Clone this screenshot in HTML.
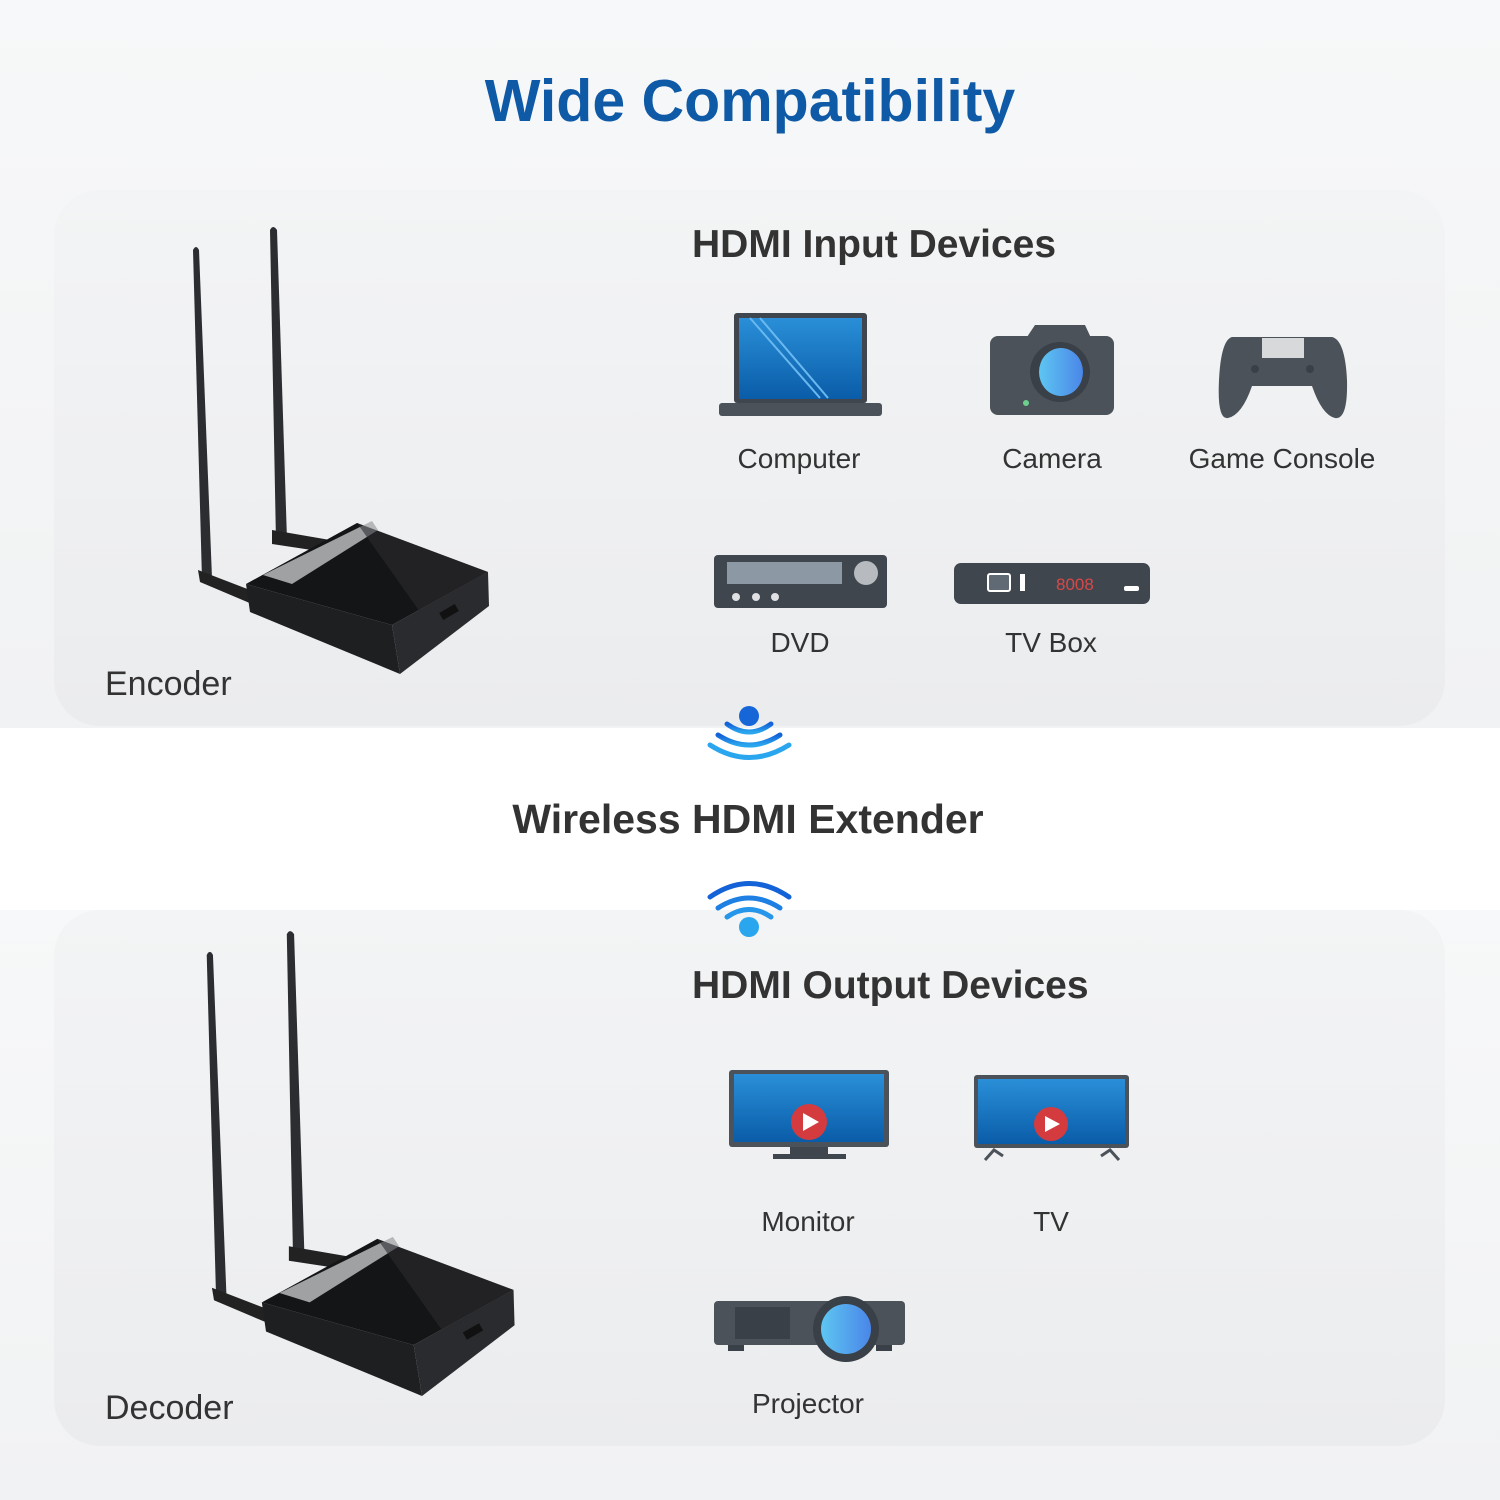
<!DOCTYPE html>
<html><head><meta charset="utf-8"><style>
html,body{margin:0;padding:0;background:#fff}
svg{display:block}
text{font-family:"Liberation Sans",sans-serif}
</style></head><body>
<svg width="1500" height="1500" viewBox="0 0 1500 1500" xmlns="http://www.w3.org/2000/svg">
<defs>
<linearGradient id="pg" x1="0" y1="0" x2="0" y2="1"><stop offset="0" stop-color="#f3f4f5"/><stop offset="1" stop-color="#ebecee"/></linearGradient>
<linearGradient id="bg" x1="0" y1="0" x2="0" y2="1"><stop offset="0" stop-color="#f7f8f9"/><stop offset="1" stop-color="#f1f2f3"/></linearGradient>
<linearGradient id="scr" x1="0" y1="0" x2="0" y2="1"><stop offset="0" stop-color="#2a8fd8"/><stop offset="1" stop-color="#0a5ca8"/></linearGradient>
<linearGradient id="lens" x1="0" y1="0" x2="1" y2="0"><stop offset="0" stop-color="#5ec6f2"/><stop offset="1" stop-color="#4a86e8"/></linearGradient>
<linearGradient id="wf" x1="0" y1="0" x2="0" y2="1"><stop offset="0" stop-color="#1462d8"/><stop offset="1" stop-color="#2aa6ee"/></linearGradient>
<g id="dev">
  <path d="M193,250 Q196,244 199,250 L212,578 L202,580 Z" fill="#2b2d30"/>
  <path d="M270,230 Q273,224 277,230 L287,540 L276,542 Z" fill="#2b2d30"/>
  <path d="M198,570 L250,590 L252,604 L200,582 Z" fill="#222"/>
  <path d="M272,530 L330,540 L325,552 L272,544 Z" fill="#222"/>
  <path d="M246,584 L250,612 L400,674 L392,625 Z" fill="#1e1f21"/>
  <path d="M392,625 L488,572 L489,606 L400,674 Z" fill="#2a2b2e"/>
  <path d="M246,584 L357,523 L488,572 L392,625 Z" fill="#141516"/>
  <path d="M263,575 L372,521 L378,530 L292,584 Z" fill="#aeb0b3" opacity="0.9"/>
  <path d="M357,523 L488,572 L420,612 Z" fill="#2b2c2f" opacity="0.6"/>
  <rect x="440" y="608" width="18" height="8" fill="#111" transform="rotate(-30 449 612)"/>
</g>
</defs>
<rect width="1500" height="1500" fill="#fff"/>
<rect x="0" y="0" width="1500" height="728" fill="url(#bg)"/>
<rect x="0" y="910" width="1500" height="590" fill="url(#bg)"/>
<rect x="54" y="190" width="1391" height="536" rx="46" fill="url(#pg)"/>
<rect x="54" y="910" width="1391" height="536" rx="46" fill="url(#pg)"/>

<text x="750" y="121" text-anchor="middle" font-size="59" font-weight="bold" fill="#0f5aa6">Wide Compatibility</text>
<text x="692" y="257" font-size="39" font-weight="bold" fill="#333">HDMI Input Devices</text>
<text x="692" y="998" font-size="39" font-weight="bold" fill="#333">HDMI Output Devices</text>
<text x="748" y="833" text-anchor="middle" font-size="41" font-weight="bold" fill="#333">Wireless HDMI Extender</text>

<g font-size="28" fill="#333" text-anchor="middle">
<text x="799" y="468">Computer</text>
<text x="1052" y="468">Camera</text>
<text x="1282" y="468">Game Console</text>
<text x="800" y="652">DVD</text>
<text x="1051" y="652">TV Box</text>
<text x="808" y="1231">Monitor</text>
<text x="1051" y="1231">TV</text>
<text x="808" y="1413">Projector</text>
</g>
<text x="105" y="695" font-size="34" fill="#333">Encoder</text>
<text x="105" y="1419" font-size="34" fill="#333">Decoder</text>

<use href="#dev"/>
<use href="#dev" transform="translate(6,695) scale(1.04)"/>

<!-- laptop -->
<rect x="734" y="313" width="133" height="90" rx="3" fill="#3f464e"/>
<rect x="739" y="318" width="123" height="81" fill="url(#scr)"/>
<path d="M750,318 L820,398 M760,318 L828,398" stroke="#6ab8f0" stroke-width="2"/>
<rect x="719" y="403" width="163" height="13" rx="3" fill="#4b5259"/>
<!-- camera -->
<rect x="990" y="336" width="124" height="79" rx="8" fill="#4b5259"/>
<path d="M1025,340 L1035,325 L1085,325 L1092,340 Z" fill="#4b5259"/>
<circle cx="1060" cy="372" r="30" fill="#3a4047"/>
<ellipse cx="1061" cy="372" rx="22" ry="24" fill="url(#lens)"/>
<circle cx="1026" cy="403" r="3" fill="#6cd08c"/>
<!-- gamepad -->
<path d="M1232,337 L1332,337 Q1345,340 1347,380 Q1348,420 1335,418 Q1322,415 1312,386 L1252,386 Q1242,415 1228,418 Q1217,420 1219,380 Q1221,340 1232,337 Z" fill="#4b5259"/>
<rect x="1262" y="338" width="42" height="20" fill="#d8d9db"/>
<circle cx="1255" cy="369" r="4" fill="#3a4047"/><circle cx="1310" cy="369" r="4" fill="#3a4047"/>
<!-- DVD -->
<rect x="714" y="555" width="173" height="53" rx="4" fill="#3f464e"/>
<rect x="727" y="562" width="115" height="22" fill="#8c98a4"/>
<circle cx="866" cy="573" r="12" fill="#b7bbc0"/>
<g fill="#dfe1e3"><circle cx="736" cy="597" r="4"/><circle cx="756" cy="597" r="4"/><circle cx="775" cy="597" r="4"/></g>
<!-- TV box -->
<rect x="954" y="563" width="196" height="41" rx="7" fill="#3f464e"/>
<rect x="988" y="574" width="22" height="17" rx="2" fill="#606a74" stroke="#fff" stroke-width="2"/>
<rect x="1020" y="574" width="5" height="17" fill="#fff"/>
<text x="1056" y="590" font-size="17" fill="#d94848">8008</text>
<rect x="1124" y="586" width="15" height="5" rx="2" fill="#fff"/>

<!-- wifi down -->
<circle cx="749" cy="716" r="10" fill="#1666d8"/>
<path d="M727,724 Q749,740 771,724" stroke="url(#wf)" stroke-width="5" fill="none" stroke-linecap="round"/>
<path d="M718,735 Q749,755 780,735" stroke="url(#wf)" stroke-width="5" fill="none" stroke-linecap="round"/>
<path d="M710,745 Q749,770 789,745" stroke="#2aa6ee" stroke-width="5" fill="none" stroke-linecap="round"/>
<!-- wifi up -->
<path d="M710,897 Q749,870 789,897" stroke="#1462d8" stroke-width="5" fill="none" stroke-linecap="round"/>
<path d="M718,908 Q749,888 780,908" stroke="#1d80e2" stroke-width="5" fill="none" stroke-linecap="round"/>
<path d="M727,917 Q749,902 771,917" stroke="#2596ea" stroke-width="5" fill="none" stroke-linecap="round"/>
<circle cx="749" cy="927" r="10" fill="#2aa6ee"/>

<!-- monitor -->
<rect x="729" y="1070" width="160" height="77" rx="3" fill="#4b5259"/>
<rect x="734" y="1074" width="150" height="68" fill="url(#scr)"/>
<circle cx="809" cy="1122" r="18" fill="#d43b3f"/>
<path d="M803,1113 L819,1122 L803,1131 Z" fill="#fff"/>
<rect x="790" y="1147" width="38" height="10" fill="#3f464e"/>
<rect x="773" y="1154" width="73" height="5" fill="#3f464e"/>
<!-- TV -->
<rect x="974" y="1075" width="155" height="73" rx="3" fill="#4b5259"/>
<rect x="978" y="1079" width="147" height="65" fill="url(#scr)"/>
<circle cx="1051" cy="1124" r="17" fill="#d43b3f"/>
<path d="M1045,1116 L1060,1124 L1045,1132 Z" fill="#fff"/>
<path d="M985,1160 L994,1150 L1003,1156 M1101,1156 L1110,1150 L1119,1160" stroke="#4b5259" stroke-width="3" fill="none"/>
<!-- projector -->
<rect x="714" y="1301" width="191" height="44" rx="4" fill="#4b5259"/>
<rect x="735" y="1307" width="55" height="32" fill="#3a4047"/>
<circle cx="846" cy="1329" r="33" fill="#3a4047"/>
<circle cx="846" cy="1329" r="25" fill="url(#lens)"/>
<rect x="728" y="1345" width="16" height="6" fill="#3a4047"/><rect x="876" y="1345" width="16" height="6" fill="#3a4047"/>
</svg>
</body></html>
